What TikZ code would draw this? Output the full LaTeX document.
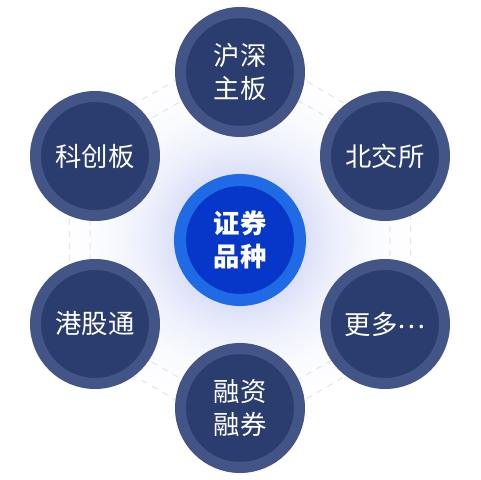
\documentclass[tikz,border=0pt]{standalone}
\usepackage{fontspec}
\newfontfamily\cjk{Noto Sans CJK SC}
\usetikzlibrary{positioning}
\definecolor{ringout}{HTML}{435587}
\definecolor{ringin}{HTML}{2B3C6E}
\definecolor{coreout}{HTML}{1F6BE6}
\definecolor{corein}{HTML}{0637C9}
\definecolor{glowc}{HTML}{DCE1F8}
\definecolor{dashc}{HTML}{E3E5EB}
\pgfdeclareradialshading{coreglow}{\pgfpoint{0bp}{0bp}}{color(0bp)=(glowc); color(9.5bp)=(glowc); color(14bp)=(glowc!50!white); color(19bp)=(glowc!15!white); color(25bp)=(white); color(50bp)=(white)}

\begin{document}
\begin{tikzpicture}[x=0.02cm,y=-0.02cm,
  market/.style={circle,fill=ringin,draw=ringout,line width=0.22cm,minimum size=2.38cm,inner sep=0pt,
    text=white,align=center,font=\cjk\fontsize{15}{19}\selectfont},
  core/.style={circle,fill=corein,draw=coreout,line width=0.24cm,minimum size=2.4cm,inner sep=0pt,
    text=white,align=center,font=\cjk\bfseries\fontsize{15}{19}\selectfont},
  hexline/.style={draw=dashc,line width=0.6pt,dash pattern=on 3.4pt off 3.4pt}]
  \useasboundingbox[fill=white] (0,0) rectangle (480,480);
  % soft glow behind the centre
  \shade[shading=coreglow] (240,240) circle (175);
  % two dashed hexagons
  \draw[hexline] (240,240) ++(90:173) -- ++(210:173) -- ++(270:173) -- ++(330:173) -- ++(30:173) -- ++(90:173) -- cycle;
  \draw[hexline] (240,240) ++(90:197) -- ++(210:197) -- ++(270:197) -- ++(330:197) -- ++(30:197) -- ++(90:197) -- cycle;
  % centre
  \node[core] (kind) at (240,240) {证券\\品种};
  % markets
  \node[market] (main) at (240,72) {沪深\\主板};
  \node[market] (star) at (95,156) {科创板};
  \node[market] (bse) at (385,156) {北交所};
  \node[market] (hk) at (95,324) {港股通};
  \node[market] (more) at (385,324) {更多\raisebox{0.4ex}{…}};
  \node[market] (margin) at (240,408) {融资\\融券};
\end{tikzpicture}
\end{document}
